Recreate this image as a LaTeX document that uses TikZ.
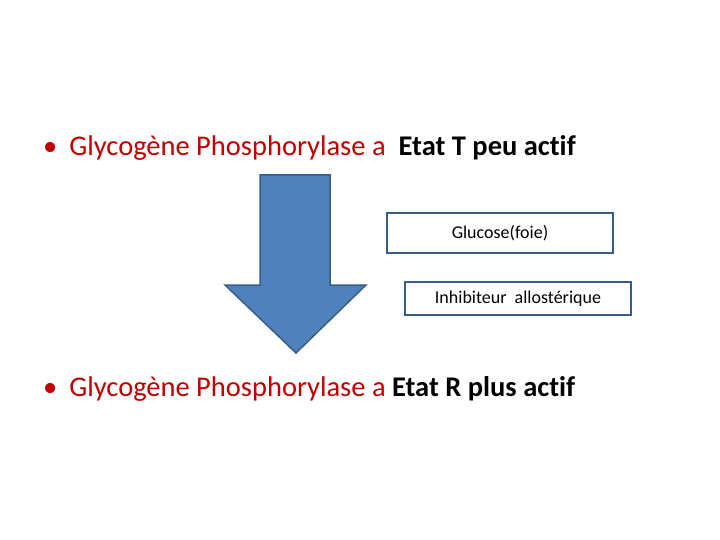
\documentclass[tikz,border=0pt]{standalone}
\usepackage{fontspec}
\setmainfont{Carlito}[Ligatures=NoCommon]
\definecolor{txtred}{HTML}{C00000}
\definecolor{arrfill}{HTML}{4F81BD}
\definecolor{arrline}{HTML}{385D8A}
\begin{document}
\begin{tikzpicture}[x=1pt,y=-1pt,
  boxst/.style={draw=arrline,line width=1.5pt,fill=white,inner sep=0pt},
  linest/.style={anchor=west,font=\fontsize{28.5}{32}\selectfont,inner sep=0pt}]
\useasboundingbox (0,0) rectangle (720,540);
\node[linest] (l1) at (43,148) {\textcolor{txtred}{•\hspace{12pt}Glycogène Phosphorylase a}\hspace{13pt}\textbf{Etat T peu actif}};
\node[linest] (l2) at (43,389) {\textcolor{txtred}{•\hspace{12pt}Glycogène Phosphorylase a} \textbf{Etat R plus actif}};
\draw[arrline,fill=arrfill,line width=1.5pt] (260,175) -- (330,175) -- (330,285) -- (366,285) -- (296,353) -- (225,285) -- (260,285) -- cycle;
\node[boxst,minimum width=226pt,minimum height=40pt] (b1) at (500,233) {\fontsize{18}{20}\selectfont Glucose(foie)};
\node[boxst,minimum width=226pt,minimum height=33pt] (b2) at (518,298.5) {\fontsize{18}{20}\selectfont Inhibiteur\ \ allostérique};
\end{tikzpicture}
\end{document}
